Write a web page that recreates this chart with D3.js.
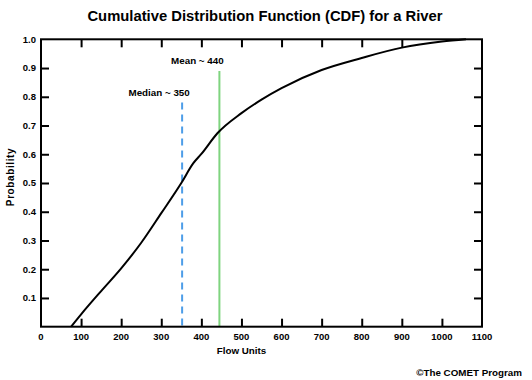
<!DOCTYPE html>
<html>
<head>
<meta charset="utf-8">
<script src="https://cdn.jsdelivr.net/npm/d3@7"></script>
<style>
  html, body { margin: 0; padding: 0; background: #fff; }
  svg { display: block; font-family: "Liberation Sans", Arial, sans-serif; font-weight: bold; }
</style>
</head>
<body>
<svg id="chart" width="532" height="380"></svg>
<script>
// ---- data ----
const flowValues = [75, 100, 150, 200, 250, 300, 350, 380, 400, 440, 500, 550, 600, 700, 800, 900, 1000, 1060];
const cdfValues  = [0, 0.043, 0.124, 0.203, 0.292, 0.395, 0.50, 0.569, 0.601, 0.673, 0.743, 0.79, 0.83, 0.893, 0.935, 0.971, 0.992, 1.0];
const xTickValues = [0, 100, 200, 300, 400, 500, 600, 700, 800, 900, 1000, 1100];
const yTickValues = [0.1, 0.2, 0.3, 0.4, 0.5, 0.6, 0.7, 0.8, 0.9, 1.0];
const medianValue = 352;
const medianTop = 0.78;
const medianLabel = "Median ~ 350";
const meanValue = 445;
const meanTop = 0.89;
const meanLabel = "Mean ~ 440";
const titleText = "Cumulative Distribution Function (CDF) for a River";
const xTitle = "Flow Units";
const yTitle = "Probability";
const credit = "\u00A9The COMET Program";

// ---- layout ----
const svg = d3.select("#chart");
const mLeft = 41, mRight = 482, mTop = 39.3, mBottom = 326.7;
const x = d3.scaleLinear().domain([0, 1100]).range([mLeft, mRight]);
const y = d3.scaleLinear().domain([0, 1]).range([mBottom, mTop]);

// title
svg.append("text").attr("x", 265).attr("y", 21).attr("text-anchor", "middle")
  .style("font-size", "14.8px").text(titleText);

// reference lines
svg.append("line")
  .attr("x1", x(medianValue)).attr("x2", x(medianValue))
  .attr("y1", y(medianTop)).attr("y2", y(0))
  .attr("stroke", "#4d9de8").attr("stroke-width", 2).attr("stroke-dasharray", "7,5");
svg.append("line")
  .attr("x1", x(meanValue)).attr("x2", x(meanValue))
  .attr("y1", y(meanTop)).attr("y2", y(0))
  .attr("stroke", "#7fd47f").attr("stroke-width", 2);

svg.append("text").attr("x", x(medianValue) - 23).attr("y", y(medianTop) - 6.5)
  .attr("text-anchor", "middle").style("font-size", "9.8px").text(medianLabel);
svg.append("text").attr("x", x(meanValue) - 22).attr("y", y(meanTop) - 6.5)
  .attr("text-anchor", "middle").style("font-size", "9.8px").text(meanLabel);

// curve
const line = d3.line().x((d, i) => x(flowValues[i])).y(d => y(d)).curve(d3.curveMonotoneX);
svg.append("path").datum(cdfValues).attr("d", line)
  .attr("fill", "none").attr("stroke", "#000").attr("stroke-width", 2);

// frame with inward ticks
const tickLen = 8;
const axisG = svg.append("g");
const bottomAxis = d3.axisBottom(x).tickValues(xTickValues.slice(1, -1)).tickSize(-tickLen).tickFormat("");
const topAxis = d3.axisTop(x).tickValues(xTickValues.slice(1, -2)).tickSize(-tickLen).tickFormat("");
const leftAxis = d3.axisLeft(y).tickValues(yTickValues.slice(0, -1)).tickSize(-tickLen).tickFormat("");
const rightAxis = d3.axisRight(y).tickValues(yTickValues.slice(0, -1)).tickSize(-tickLen).tickFormat("");
[[bottomAxis, `translate(0,${mBottom})`], [topAxis, `translate(0,${mTop})`],
 [leftAxis, `translate(${mLeft},0)`], [rightAxis, `translate(${mRight},0)`]].forEach(([ax, tr]) => {
  const g = axisG.append("g").attr("transform", tr).call(ax);
  g.select(".domain").remove();
  g.selectAll(".tick line").attr("stroke", "#000").attr("stroke-width", 2);
});
axisG.append("rect").attr("x", mLeft).attr("y", mTop)
  .attr("width", mRight - mLeft).attr("height", mBottom - mTop)
  .attr("fill", "none").attr("stroke", "#000").attr("stroke-width", 2);

// tick labels
svg.append("g").selectAll("text").data(xTickValues).join("text")
  .attr("x", d => x(d)).attr("y", 339.5).attr("text-anchor", "middle")
  .style("font-size", "9.5px").text(d => d);
svg.append("g").selectAll("text").data(yTickValues).join("text")
  .attr("x", 36).attr("y", d => y(d) + 3.4).attr("text-anchor", "end")
  .style("font-size", "9.5px").text(d => d.toFixed(1));

// axis titles
svg.append("text").attr("x", x(500)).attr("y", 354).attr("text-anchor", "middle")
  .style("font-size", "9.8px").text(xTitle);
svg.append("text").attr("transform", `translate(14,177) rotate(-90)`).attr("text-anchor", "middle")
  .style("font-size", "10px").style("letter-spacing", "0.6px").text(yTitle);

svg.append("text").attr("x", 522).attr("y", 376).attr("text-anchor", "end")
  .style("font-size", "9.8px").text(credit);
</script>
</body>
</html>
